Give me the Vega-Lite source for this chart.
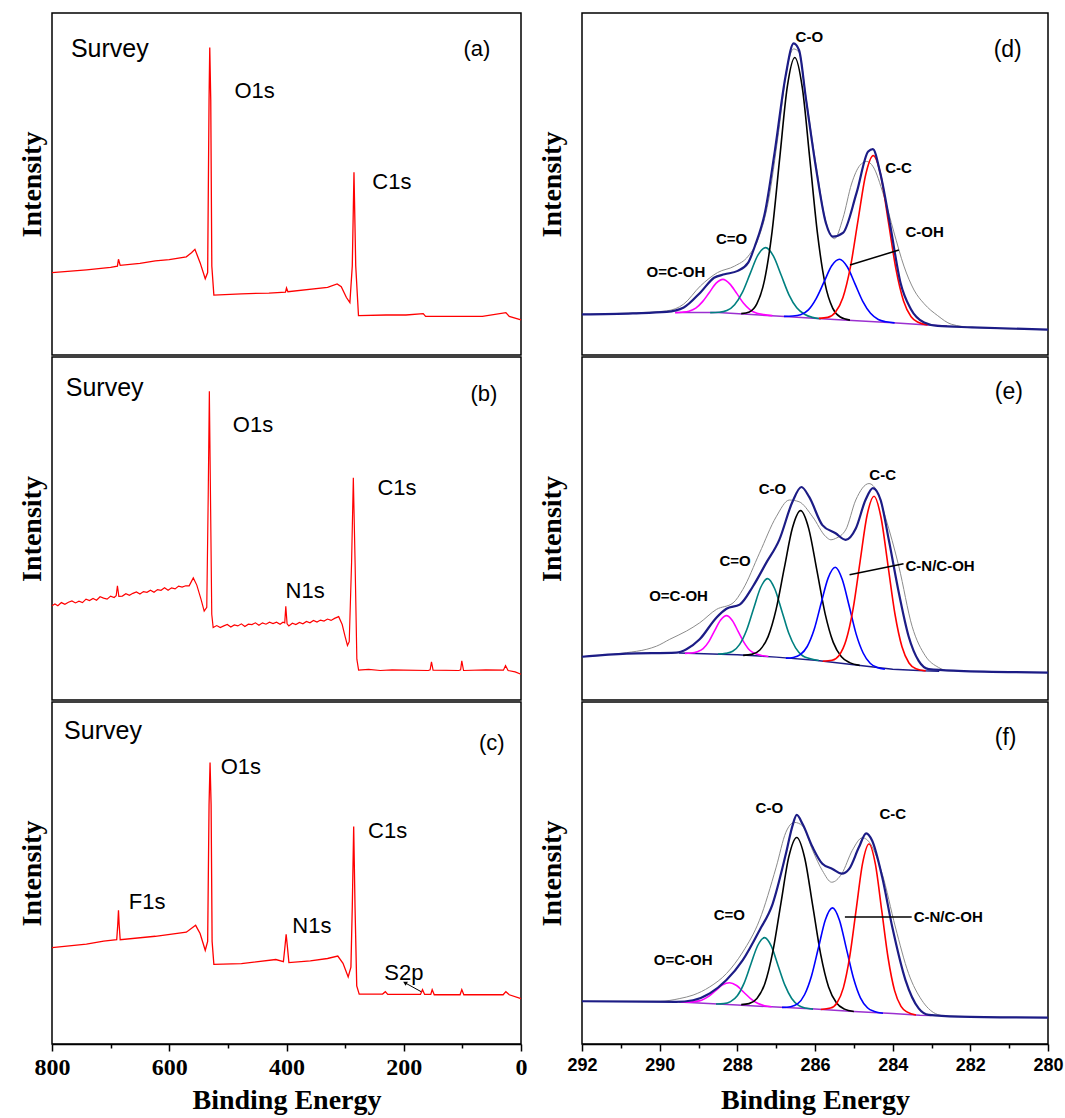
{
"$schema":"https://vega.github.io/schema/vega-lite/v6.json",
"background":"white",
"padding":{"left":17,"top":12,"right":0,"bottom":0},
"config":{"view":{"stroke":"#000","strokeWidth":1.5},"font":"Liberation Sans"},
"datasets":{
"a":[{"x":800,"y":24.1},{"x":741,"y":24.9},{"x":700,"y":25.6},{"x":688.4,"y":26.0},{"x":686.6,"y":28.0},{"x":683.7,"y":26.2},{"x":650,"y":26.8},{"x":623.8,"y":27.5},{"x":600,"y":27.9},{"x":570.9,"y":28.7},{"x":562.1,"y":29.9},{"x":556.2,"y":30.9},{"x":547.4,"y":27.0},{"x":538.6,"y":22.3},{"x":534.5,"y":24.1},{"x":532.1,"y":74.6},{"x":530.9,"y":89.9},{"x":529.2,"y":74.6},{"x":527.4,"y":26.0},{"x":523.9,"y":17.5},{"x":476.9,"y":17.9},{"x":430,"y":18.1},{"x":401.7,"y":18.4},{"x":400,"y":19.6},{"x":397.6,"y":18.5},{"x":330,"y":19.8},{"x":313.6,"y":20.8},{"x":306.6,"y":20.0},{"x":297.8,"y":16.8},{"x":291.9,"y":15.3},{"x":287.8,"y":26.0},{"x":284.9,"y":53.4},{"x":281.9,"y":26.0},{"x":277.2,"y":11.5},{"x":230.2,"y":11.7},{"x":196.2,"y":11.7},{"x":166.8,"y":12.1},{"x":162.7,"y":11.3},{"x":65.8,"y":11.3},{"x":25.8,"y":12.4},{"x":20,"y":11.3},{"x":0,"y":10.3}],
"b":[{"x":800,"y":27.5},{"x":795,"y":28.0},{"x":790,"y":27.5},{"x":784,"y":28.4},{"x":778,"y":27.9},{"x":772,"y":28.5},{"x":766,"y":28.9},{"x":760,"y":28.3},{"x":754,"y":28.8},{"x":748,"y":28.4},{"x":742,"y":29.4},{"x":736,"y":29.0},{"x":730,"y":29.6},{"x":724,"y":29.1},{"x":718,"y":30.1},{"x":712,"y":29.7},{"x":706,"y":29.4},{"x":700,"y":30.3},{"x":694,"y":29.9},{"x":690.5,"y":30.4},{"x":688.4,"y":33.3},{"x":686,"y":30.2},{"x":680,"y":30.3},{"x":674,"y":31.0},{"x":668,"y":30.5},{"x":662,"y":31.1},{"x":656,"y":31.5},{"x":650,"y":30.9},{"x":644,"y":31.6},{"x":638,"y":31.4},{"x":632,"y":32.0},{"x":626,"y":31.4},{"x":620,"y":32.2},{"x":614,"y":32.0},{"x":608,"y":32.7},{"x":602,"y":32.0},{"x":596,"y":32.7},{"x":590,"y":32.4},{"x":584,"y":33.2},{"x":578,"y":32.9},{"x":572,"y":33.3},{"x":566,"y":33.3},{"x":559,"y":35.6},{"x":553,"y":33.5},{"x":546,"y":29.5},{"x":540.4,"y":25.9},{"x":536,"y":27.0},{"x":533.5,"y":60},{"x":531.6,"y":90.0},{"x":529.7,"y":60},{"x":527.5,"y":25},{"x":525.1,"y":21.1},{"x":519,"y":21.7},{"x":513,"y":21.1},{"x":507,"y":21.6},{"x":501,"y":22.0},{"x":495,"y":21.3},{"x":489,"y":21.9},{"x":483,"y":21.6},{"x":477,"y":22.2},{"x":471,"y":21.4},{"x":465,"y":22.1},{"x":459,"y":22.0},{"x":453,"y":22.5},{"x":447,"y":21.8},{"x":441,"y":22.5},{"x":435,"y":22.1},{"x":429,"y":22.7},{"x":423,"y":22.3},{"x":417,"y":22.7},{"x":411,"y":22.1},{"x":406,"y":22.7},{"x":403,"y":22.5},{"x":401.2,"y":27.3},{"x":399,"y":22.2},{"x":396,"y":21.6},{"x":390,"y":22.4},{"x":384,"y":22.0},{"x":378,"y":22.6},{"x":372,"y":22.2},{"x":366,"y":22.9},{"x":360,"y":22.5},{"x":354,"y":23.2},{"x":348,"y":22.7},{"x":342,"y":23.3},{"x":336,"y":23.0},{"x":330,"y":23.6},{"x":324,"y":23.2},{"x":318,"y":23.8},{"x":311,"y":24.3},{"x":305,"y":22.0},{"x":300,"y":18.5},{"x":296,"y":15.9},{"x":293,"y":17},{"x":289,"y":40},{"x":286,"y":64.8},{"x":283,"y":40},{"x":280,"y":11.9},{"x":277,"y":8.7},{"x":260,"y":8.9},{"x":240,"y":8.6},{"x":220,"y":8.8},{"x":200,"y":8.7},{"x":158,"y":8.6},{"x":155,"y":8.8},{"x":152.7,"y":11.1},{"x":150,"y":8.7},{"x":106,"y":8.6},{"x":103,"y":8.8},{"x":101,"y":11.4},{"x":98,"y":8.6},{"x":60,"y":8.8},{"x":30,"y":8.7},{"x":26.4,"y":10.0},{"x":22,"y":8.6},{"x":10,"y":8.2},{"x":0,"y":7.5}],
"c":[{"x":800,"y":28.2},{"x":741.3,"y":29.2},{"x":711.9,"y":30.1},{"x":689.6,"y":30.5},{"x":687.8,"y":35},{"x":686.6,"y":39.1},{"x":685.5,"y":35},{"x":683.7,"y":30.5},{"x":623.8,"y":31.5},{"x":570.9,"y":32.7},{"x":555,"y":34.7},{"x":547.4,"y":32.3},{"x":538.6,"y":27.4},{"x":534.5,"y":30},{"x":532.1,"y":70},{"x":530.4,"y":82.3},{"x":528.6,"y":70},{"x":526.9,"y":30},{"x":523.9,"y":23.3},{"x":476.9,"y":23.5},{"x":418.2,"y":24.7},{"x":405.3,"y":24.1},{"x":402.9,"y":28},{"x":400.6,"y":32.1},{"x":398.2,"y":28},{"x":395.9,"y":23.8},{"x":359.4,"y":24.3},{"x":330,"y":25.0},{"x":312.5,"y":25.7},{"x":303.6,"y":23.6},{"x":294.8,"y":19.6},{"x":290.1,"y":22.5},{"x":287.8,"y":40},{"x":285.4,"y":63.6},{"x":283.1,"y":40},{"x":280.2,"y":17},{"x":276,"y":14.6},{"x":236.1,"y":14.6},{"x":231.4,"y":15.3},{"x":227.3,"y":14.5},{"x":171.5,"y":14.5},{"x":168,"y":15.9},{"x":164.4,"y":14.5},{"x":153.9,"y":14.5},{"x":151.5,"y":15.9},{"x":148,"y":14.4},{"x":103.9,"y":14.4},{"x":101,"y":15.9},{"x":97.5,"y":14.4},{"x":30.5,"y":14.4},{"x":25.8,"y":15.3},{"x":20,"y":14.4},{"x":0,"y":13.3}],
"d_raw":[{"x":292,"y":11.9},{"x":290.69,"y":12.3},{"x":289.82,"y":12.9},{"x":289.38,"y":14.9},{"x":288.95,"y":20.2},{"x":288.51,"y":24.1},{"x":288.07,"y":26.0},{"x":287.72,"y":28.9},{"x":287.46,"y":34},{"x":287.2,"y":45},{"x":286.94,"y":65},{"x":286.72,"y":84},{"x":286.55,"y":89.5},{"x":286.41,"y":88.5},{"x":286.24,"y":76},{"x":285.98,"y":56},{"x":285.72,"y":39},{"x":285.5,"y":34.0},{"x":285.28,"y":40},{"x":285.06,"y":50},{"x":284.84,"y":55.5},{"x":284.67,"y":56.6},{"x":284.5,"y":55},{"x":284.24,"y":47},{"x":283.97,"y":36},{"x":283.71,"y":26},{"x":283.45,"y":19},{"x":283.19,"y":15},{"x":282.84,"y":11.5},{"x":282.49,"y":9.0},{"x":281.96,"y":8.1},{"x":280,"y":7.4}],
"d_fit":[{"x":292,"y":11.9},{"x":290.69,"y":12.2},{"x":289.82,"y":12.6},{"x":289.38,"y":13.9},{"x":288.95,"y":18.3},{"x":288.6,"y":22.6},{"x":288.33,"y":23.6},{"x":287.99,"y":24.6},{"x":287.72,"y":27.0},{"x":287.55,"y":31.8},{"x":287.29,"y":41.6},{"x":287.03,"y":60.0},{"x":286.76,"y":81.4},{"x":286.55,"y":91.1},{"x":286.41,"y":89.1},{"x":286.24,"y":75.5},{"x":285.98,"y":55.1},{"x":285.72,"y":38.6},{"x":285.54,"y":34.6},{"x":285.28,"y":35.7},{"x":284.93,"y":47.4},{"x":284.63,"y":59.5},{"x":284.51,"y":60.2},{"x":284.32,"y":53.2},{"x":284.06,"y":37.7},{"x":283.8,"y":21.2},{"x":283.53,"y":13.4},{"x":283.19,"y":9.5},{"x":282.84,"y":8.5},{"x":281.96,"y":8.1},{"x":280,"y":7.4}],
"d_bg":[{"x":289.6,"y":12.4},{"x":288.5,"y":12.4},{"x":287,"y":11.4},{"x":285.5,"y":10.4},{"x":284,"y":9.4},{"x":283,"y":8.7},{"x":282.6,"y":8.5}],
"d_comp":[
{"s":"m","x":289.6,"y":12.4},{"s":"m","x":289.42,"y":12.5},{"s":"m","x":289.245,"y":12.8},{"s":"m","x":289.07,"y":13.7},{"s":"m","x":288.895,"y":15.6},{"s":"m","x":288.72,"y":18.3},{"s":"m","x":288.545,"y":21.0},{"s":"m","x":288.37,"y":22.1},{"s":"m","x":288.195,"y":20.8},{"s":"m","x":288.02,"y":18.1},{"s":"m","x":287.845,"y":15.2},{"s":"m","x":287.67,"y":13.2},{"s":"m","x":287.495,"y":12.2},{"s":"m","x":287.32,"y":11.8},{"s":"m","x":287.1,"y":11.5},
{"s":"t","x":288.7,"y":12.4},{"s":"t","x":288.47,"y":12.5},{"s":"t","x":288.27,"y":13.0},{"s":"t","x":288.07,"y":14.7},{"s":"t","x":287.87,"y":18.3},{"s":"t","x":287.67,"y":23.8},{"s":"t","x":287.47,"y":29.2},{"s":"t","x":287.27,"y":31.4},{"s":"t","x":287.07,"y":28.9},{"s":"t","x":286.87,"y":23.3},{"s":"t","x":286.67,"y":17.6},{"s":"t","x":286.47,"y":13.8},{"s":"t","x":286.27,"y":11.9},{"s":"t","x":286.07,"y":11.0},{"s":"t","x":285.85,"y":10.6},
{"s":"k","x":287.9,"y":12.1},{"s":"k","x":287.69,"y":12.6},{"s":"k","x":287.495,"y":15.0},{"s":"k","x":287.3,"y":21.9},{"s":"k","x":287.105,"y":36.1},{"s":"k","x":286.91,"y":57.4},{"s":"k","x":286.715,"y":78.3},{"s":"k","x":286.52,"y":87.0},{"s":"k","x":286.325,"y":78.0},{"s":"k","x":286.13,"y":56.9},{"s":"k","x":285.935,"y":35.4},{"s":"k","x":285.74,"y":20.8},{"s":"k","x":285.545,"y":13.7},{"s":"k","x":285.35,"y":11.1},{"s":"k","x":285.1,"y":10.2},
{"s":"b","x":286.8,"y":11.3},{"s":"b","x":286.57,"y":11.4},{"s":"b","x":286.37,"y":11.8},{"s":"b","x":286.17,"y":13.2},{"s":"b","x":285.97,"y":16.5},{"s":"b","x":285.77,"y":21.3},{"s":"b","x":285.57,"y":26.1},{"s":"b","x":285.37,"y":28.0},{"s":"b","x":285.17,"y":25.8},{"s":"b","x":284.97,"y":20.8},{"s":"b","x":284.77,"y":15.7},{"s":"b","x":284.57,"y":12.2},{"s":"b","x":284.37,"y":10.4},{"s":"b","x":284.17,"y":9.7},{"s":"b","x":283.95,"y":9.4},
{"s":"r","x":285.9,"y":10.7},{"s":"r","x":285.67,"y":11.0},{"s":"r","x":285.475,"y":12.5},{"s":"r","x":285.28,"y":16.8},{"s":"r","x":285.085,"y":25.9},{"s":"r","x":284.89,"y":39.5},{"s":"r","x":284.695,"y":52.7},{"s":"r","x":284.5,"y":58.3},{"s":"r","x":284.305,"y":52.5},{"s":"r","x":284.11,"y":38.9},{"s":"r","x":283.915,"y":25.1},{"s":"r","x":283.72,"y":15.8},{"s":"r","x":283.525,"y":11.2},{"s":"r","x":283.33,"y":9.5},{"s":"r","x":283.1,"y":8.8}],
"e_raw":[{"x":292,"y":12.6},{"x":290.85,"y":13.8},{"x":290.33,"y":14.8},{"x":290.08,"y":15.7},{"x":289.74,"y":17.7},{"x":289.31,"y":20.1},{"x":288.97,"y":22.5},{"x":288.54,"y":26.4},{"x":288.11,"y":28.3},{"x":287.86,"y":32.2},{"x":287.43,"y":42.8},{"x":287.0,"y":53.4},{"x":286.66,"y":58.3},{"x":286.41,"y":57.8},{"x":286.06,"y":53.4},{"x":285.72,"y":47.6},{"x":285.59,"y":46.7},{"x":285.47,"y":47.1},{"x":285.21,"y":49.6},{"x":284.95,"y":58.3},{"x":284.61,"y":63.1},{"x":284.4,"y":60.7},{"x":284.19,"y":53.4},{"x":283.84,"y":38.9},{"x":283.5,"y":21.5},{"x":283.16,"y":12.9},{"x":282.82,"y":9.5},{"x":282.56,"y":8.5},{"x":280,"y":8.0}],
"e_fit":[{"x":292,"y":12.6},{"x":290.85,"y":13.5},{"x":289.57,"y":13.8},{"x":289.31,"y":14.8},{"x":288.97,"y":17.7},{"x":288.54,"y":24.0},{"x":288.28,"y":26.6},{"x":287.94,"y":27.8},{"x":287.6,"y":33.1},{"x":287.26,"y":39.9},{"x":286.92,"y":46.7},{"x":286.58,"y":57.8},{"x":286.35,"y":62.1},{"x":286.15,"y":59.2},{"x":285.81,"y":51.0},{"x":285.47,"y":48.6},{"x":285.21,"y":46.7},{"x":284.95,"y":50.0},{"x":284.7,"y":58.3},{"x":284.51,"y":61.8},{"x":284.31,"y":58.3},{"x":284.1,"y":46.7},{"x":283.84,"y":31.2},{"x":283.59,"y":18.6},{"x":283.33,"y":11.4},{"x":283.07,"y":9.0},{"x":282.31,"y":8.5},{"x":280,"y":8.0}],
"e_bg":[{"x":289.5,"y":13.7},{"x":288,"y":13.2},{"x":287,"y":12.5},{"x":286,"y":11.6},{"x":285,"y":10.3},{"x":284,"y":9.0},{"x":283.2,"y":8.5},{"x":282.8,"y":8.4}],
"e_comp":[
{"s":"m","x":289.35,"y":13.6},{"s":"m","x":289.18,"y":13.7},{"s":"m","x":289.03,"y":14.1},{"s":"m","x":288.88,"y":15.0},{"s":"m","x":288.73,"y":17.1},{"s":"m","x":288.58,"y":20.3},{"s":"m","x":288.43,"y":23.3},{"s":"m","x":288.28,"y":24.6},{"s":"m","x":288.13,"y":23.2},{"s":"m","x":287.98,"y":20.0},{"s":"m","x":287.83,"y":16.8},{"s":"m","x":287.68,"y":14.5},{"s":"m","x":287.53,"y":13.5},{"s":"m","x":287.38,"y":13.0},{"s":"m","x":287.2,"y":12.7},
{"s":"t","x":288.5,"y":13.4},{"s":"t","x":288.3,"y":13.6},{"s":"t","x":288.12,"y":14.2},{"s":"t","x":287.94,"y":16.2},{"s":"t","x":287.76,"y":20.4},{"s":"t","x":287.58,"y":26.7},{"s":"t","x":287.4,"y":32.8},{"s":"t","x":287.22,"y":35.4},{"s":"t","x":287.04,"y":32.5},{"s":"t","x":286.86,"y":26.2},{"s":"t","x":286.68,"y":19.6},{"s":"t","x":286.5,"y":15.2},{"s":"t","x":286.32,"y":12.9},{"s":"t","x":286.14,"y":12.1},{"s":"t","x":285.9,"y":11.5},
{"s":"k","x":287.85,"y":13.0},{"s":"k","x":287.63,"y":13.3},{"s":"k","x":287.42,"y":14.6},{"s":"k","x":287.21,"y":18.4},{"s":"k","x":287.0,"y":26.5},{"s":"k","x":286.79,"y":38.5},{"s":"k","x":286.58,"y":50.2},{"s":"k","x":286.37,"y":55.2},{"s":"k","x":286.16,"y":49.9},{"s":"k","x":285.95,"y":37.7},{"s":"k","x":285.74,"y":25.2},{"s":"k","x":285.53,"y":16.8},{"s":"k","x":285.32,"y":12.6},{"s":"k","x":285.11,"y":10.9},{"s":"k","x":284.85,"y":10.1},
{"s":"b","x":286.75,"y":12.2},{"s":"b","x":286.56,"y":12.4},{"s":"b","x":286.38,"y":13.2},{"s":"b","x":286.2,"y":15.6},{"s":"b","x":286.02,"y":20.6},{"s":"b","x":285.84,"y":28.3},{"s":"b","x":285.66,"y":35.6},{"s":"b","x":285.48,"y":38.7},{"s":"b","x":285.3,"y":35.2},{"s":"b","x":285.12,"y":27.4},{"s":"b","x":284.94,"y":19.2},{"s":"b","x":284.76,"y":13.7},{"s":"b","x":284.58,"y":10.7},{"s":"b","x":284.4,"y":9.5},{"s":"b","x":284.2,"y":9.0},
{"s":"r","x":285.8,"y":11.3},{"s":"r","x":285.56,"y":11.6},{"s":"r","x":285.38,"y":13.0},{"s":"r","x":285.2,"y":17.4},{"s":"r","x":285.02,"y":26.5},{"s":"r","x":284.84,"y":40.3},{"s":"r","x":284.66,"y":53.8},{"s":"r","x":284.48,"y":59.4},{"s":"r","x":284.3,"y":53.2},{"s":"r","x":284.12,"y":39.2},{"s":"r","x":283.94,"y":25.0},{"s":"r","x":283.76,"y":15.5},{"s":"r","x":283.58,"y":10.8},{"s":"r","x":283.4,"y":9.1},{"s":"r","x":283.15,"y":8.5}],
"f_raw":[{"x":292,"y":12.5},{"x":289.99,"y":12.5},{"x":289.48,"y":13.3},{"x":289.14,"y":14.3},{"x":288.71,"y":16.7},{"x":288.28,"y":20.6},{"x":287.86,"y":26.9},{"x":287.43,"y":36.2},{"x":287.0,"y":51.7},{"x":286.75,"y":61.9},{"x":286.53,"y":64.8},{"x":286.32,"y":63.8},{"x":286.06,"y":56.6},{"x":285.81,"y":50.7},{"x":285.57,"y":47.3},{"x":285.31,"y":49.8},{"x":285.04,"y":56.6},{"x":284.78,"y":60.3},{"x":284.57,"y":58.5},{"x":284.27,"y":49.8},{"x":283.93,"y":34.2},{"x":283.59,"y":20.6},{"x":283.25,"y":12.8},{"x":282.9,"y":8.9},{"x":282.65,"y":8.2},{"x":280,"y":7.7}],
"f_fit":[{"x":292,"y":12.5},{"x":289.57,"y":12.3},{"x":289.14,"y":12.8},{"x":288.71,"y":14.8},{"x":288.28,"y":18.7},{"x":287.86,"y":24.5},{"x":287.43,"y":33.2},{"x":287.09,"y":41.0},{"x":286.75,"y":55.6},{"x":286.58,"y":63.8},{"x":286.47,"y":67.0},{"x":286.32,"y":64.3},{"x":286.06,"y":57.5},{"x":285.81,"y":52.7},{"x":285.55,"y":51.2},{"x":285.31,"y":49.8},{"x":285.12,"y":51.2},{"x":284.87,"y":57.5},{"x":284.68,"y":61.6},{"x":284.53,"y":59.5},{"x":284.27,"y":48.8},{"x":284.01,"y":34.2},{"x":283.67,"y":18.7},{"x":283.33,"y":10.4},{"x":283.07,"y":8.5},{"x":282.31,"y":8.0},{"x":280,"y":7.7}],
"f_bg":[{"x":289.5,"y":12.3},{"x":288,"y":11.4},{"x":287,"y":10.8},{"x":286,"y":10.2},{"x":285,"y":9.5},{"x":284,"y":8.9},{"x":283.3,"y":8.4},{"x":283,"y":8.3}],
"f_comp":[
{"s":"m","x":289.45,"y":12.2},{"s":"m","x":289.28,"y":12.2},{"s":"m","x":289.1,"y":12.4},{"s":"m","x":288.92,"y":12.8},{"s":"m","x":288.74,"y":13.9},{"s":"m","x":288.56,"y":15.6},{"s":"m","x":288.38,"y":17.3},{"s":"m","x":288.2,"y":17.9},{"s":"m","x":288.02,"y":17.1},{"s":"m","x":287.84,"y":15.2},{"s":"m","x":287.66,"y":13.3},{"s":"m","x":287.48,"y":11.9},{"s":"m","x":287.3,"y":11.2},{"s":"m","x":287.12,"y":10.9},
{"s":"t","x":288.55,"y":11.7},{"s":"t","x":288.35,"y":11.8},{"s":"t","x":288.175,"y":12.4},{"s":"t","x":288.0,"y":14.1},{"s":"t","x":287.825,"y":17.8},{"s":"t","x":287.65,"y":23.4},{"s":"t","x":287.475,"y":28.8},{"s":"t","x":287.3,"y":31.1},{"s":"t","x":287.125,"y":28.6},{"s":"t","x":286.95,"y":22.9},{"s":"t","x":286.775,"y":17.2},{"s":"t","x":286.6,"y":13.3},{"s":"t","x":286.425,"y":11.3},{"s":"t","x":286.25,"y":10.5},{"s":"t","x":286.05,"y":10.2},
{"s":"k","x":287.9,"y":11.5},{"s":"k","x":287.7,"y":11.8},{"s":"k","x":287.495,"y":13.3},{"s":"k","x":287.29,"y":17.7},{"s":"k","x":287.085,"y":27.1},{"s":"k","x":286.88,"y":41.0},{"s":"k","x":286.675,"y":54.7},{"s":"k","x":286.47,"y":60.4},{"s":"k","x":286.265,"y":54.4},{"s":"k","x":286.06,"y":40.5},{"s":"k","x":285.855,"y":26.3},{"s":"k","x":285.65,"y":16.7},{"s":"k","x":285.445,"y":12.0},{"s":"k","x":285.24,"y":10.2},{"s":"k","x":285.0,"y":9.5},
{"s":"b","x":286.85,"y":10.7},{"s":"b","x":286.63,"y":10.9},{"s":"b","x":286.45,"y":11.7},{"s":"b","x":286.27,"y":14.4},{"s":"b","x":286.09,"y":19.9},{"s":"b","x":285.91,"y":28.2},{"s":"b","x":285.73,"y":36.4},{"s":"b","x":285.55,"y":39.8},{"s":"b","x":285.37,"y":36.2},{"s":"b","x":285.19,"y":27.8},{"s":"b","x":285.01,"y":19.3},{"s":"b","x":284.83,"y":13.5},{"s":"b","x":284.65,"y":10.6},{"s":"b","x":284.47,"y":9.5},{"s":"b","x":284.25,"y":9.0},
{"s":"r","x":285.85,"y":10.1},{"s":"r","x":285.6,"y":10.5},{"s":"r","x":285.435,"y":12.0},{"s":"r","x":285.27,"y":16.4},{"s":"r","x":285.105,"y":25.6},{"s":"r","x":284.94,"y":39.3},{"s":"r","x":284.775,"y":52.8},{"s":"r","x":284.61,"y":58.5},{"s":"r","x":284.445,"y":52.6},{"s":"r","x":284.28,"y":38.9},{"s":"r","x":284.115,"y":25.0},{"s":"r","x":283.95,"y":15.6},{"s":"r","x":283.785,"y":11.0},{"s":"r","x":283.62,"y":9.3},{"s":"r","x":283.4,"y":8.5}]
},
"resolve":{"scale":{"x":"independent","y":"independent"}},
"spacing":9,
"hconcat":[
{"spacing":0,"resolve":{"scale":{"x":"shared","y":"independent"}},"vconcat":[
{"width":469,"height":342,
"encoding":{"x":{"field":"x","type":"quantitative","scale":{"domain":[0,800],"reverse":true,"nice":false,"zero":false},"axis":null},
"y":{"field":"y","type":"quantitative","scale":{"domain":[0,100],"nice":false,"zero":false},"axis":{"title":"Intensity","ticks":false,"labels":false,"domain":false,"grid":false,"titleFont":"Liberation Serif","titleFontSize":28,"titleFontWeight":"bold","titleColor":"#000","titlePadding":6}}},
"layer":[
{"data":{"name":"a"},"mark":{"type":"line","color":"#ff0000","strokeWidth":1.3}},
{"data":{"values":[{"x":767.7,"y":89.6,"t":"Survey"}]},"mark":{"type":"text","align":"left","baseline":"middle","fontSize":25,"color":"#000"},"encoding":{"text":{"field":"t"}}},
{"data":{"values":[{"x":98.1,"y":89.6,"t":"(a)"},{"x":488.7,"y":77.3,"t":"O1s"},{"x":253.7,"y":50.5,"t":"C1s"}]},"mark":{"type":"text","align":"left","baseline":"middle","fontSize":22,"color":"#000"},"encoding":{"text":{"field":"t"}}}
]},
{"width":469,"height":343,
"encoding":{"x":{"field":"x","type":"quantitative","scale":{"domain":[0,800],"reverse":true,"nice":false,"zero":false},"axis":null},
"y":{"field":"y","type":"quantitative","scale":{"domain":[0,100],"nice":false,"zero":false},"axis":{"title":"Intensity","ticks":false,"labels":false,"domain":false,"grid":false,"titleFont":"Liberation Serif","titleFontSize":28,"titleFontWeight":"bold","titleColor":"#000","titlePadding":6}}},
"layer":[
{"data":{"name":"b"},"mark":{"type":"line","color":"#ff0000","strokeWidth":1.2}},
{"data":{"values":[{"x":776.5,"y":91.1,"t":"Survey"}]},"mark":{"type":"text","align":"left","baseline":"middle","fontSize":25,"color":"#000"},"encoding":{"text":{"field":"t"}}},
{"data":{"values":[{"x":86.3,"y":89.2,"t":"(b)"},{"x":491.6,"y":80.3,"t":"O1s"},{"x":244.9,"y":61.8,"t":"C1s"},{"x":401.7,"y":31.7,"t":"N1s"}]},"mark":{"type":"text","align":"left","baseline":"middle","fontSize":22,"color":"#000"},"encoding":{"text":{"field":"t"}}}
]},
{"width":469,"height":342,
"encoding":{"x":{"field":"x","type":"quantitative","scale":{"domain":[0,800],"reverse":true,"nice":false,"zero":false},"axis":{"title":"Binding Energy","values":[800,700,600,500,400,300,200,100,0],"format":"d","labelExpr":"datum.value % 200 === 0 ? datum.label : ''","tickSize":{"condition":{"test":"datum.value % 200 === 0","value":7},"value":4},"tickColor":"#000","tickWidth":1.5,"domainColor":"#000","domainWidth":1.5,"grid":false,"labelFont":"Liberation Serif","labelFontSize":24,"labelFontWeight":"bold","labelColor":"#000","labelPadding":4,"labelFlush":false,"labelOverlap":false,"titleFont":"Liberation Serif","titleFontSize":28,"titleFontWeight":"bold","titleColor":"#000","titlePadding":7}},
"y":{"field":"y","type":"quantitative","scale":{"domain":[0,100],"nice":false,"zero":false},"axis":{"title":"Intensity","ticks":false,"labels":false,"domain":false,"grid":false,"titleFont":"Liberation Serif","titleFontSize":28,"titleFontWeight":"bold","titleColor":"#000","titlePadding":6}}},
"layer":[
{"data":{"name":"c"},"mark":{"type":"line","color":"#ff0000","strokeWidth":1.3}},
{"data":{"values":[{"x":779.4,"y":91.5,"t":"Survey"}]},"mark":{"type":"text","align":"left","baseline":"middle","fontSize":25,"color":"#000"},"encoding":{"text":{"field":"t"}}},
{"data":{"values":[{"x":71.6,"y":88.1,"t":"(c)"},{"x":512.2,"y":80.9,"t":"O1s"},{"x":260.8,"y":62.4,"t":"C1s"},{"x":669,"y":41.5,"t":"F1s"},{"x":390,"y":34.4,"t":"N1s"},{"x":233.2,"y":20.8,"t":"S2p"}]},"mark":{"type":"text","align":"left","baseline":"middle","fontSize":22,"color":"#000"},"encoding":{"text":{"field":"t"}}},
{"data":{"values":[{"x":170.3,"y":15.3,"x2":197.9,"y2":17.9}]},"mark":{"type":"rule","color":"#000","strokeWidth":1},"encoding":{"x2":{"field":"x2"},"y2":{"field":"y2"}}},
{"data":{"values":[{"x":197.9,"y":17.9}]},"mark":{"type":"point","shape":"triangle-up","angle":299,"size":22,"filled":true,"color":"#000","opacity":1}}
]}
]},
{"spacing":0,"resolve":{"scale":{"x":"shared","y":"independent"}},"vconcat":[
{"width":466,"height":342,
"encoding":{"x":{"field":"x","type":"quantitative","scale":{"domain":[280,292],"reverse":true,"nice":false,"zero":false},"axis":null},
"y":{"field":"y","type":"quantitative","scale":{"domain":[0,100],"nice":false,"zero":false},"axis":{"title":"Intensity","ticks":false,"labels":false,"domain":false,"grid":false,"titleFont":"Liberation Serif","titleFontSize":28,"titleFontWeight":"bold","titleColor":"#000","titlePadding":16}}},
"layer":[
{"data":{"name":"d_raw"},"mark":{"type":"line","color":"#8c8c8c","strokeWidth":1,"interpolate":"monotone"}},
{"data":{"name":"d_bg"},"mark":{"type":"line","color":"#9b30d0","strokeWidth":1.5}},
{"data":{"name":"d_comp"},"mark":{"type":"line","strokeWidth":1.6,"interpolate":"monotone"},"encoding":{"color":{"field":"s","type":"nominal","scale":{"domain":["m","t","k","b","r"],"range":["#ff00ff","#008080","#000000","#0000ff","#ff0000"]},"legend":null}}},
{"data":{"name":"d_fit"},"mark":{"type":"line","color":"#1c1c86","strokeWidth":2.2,"interpolate":"monotone"}},
{"data":{"values":[{"x":286.5,"y":93,"t":"C-O"},{"x":284.19,"y":54.7,"t":"C-C"},{"x":283.67,"y":36,"t":"C-OH"},{"x":288.55,"y":33.8,"t":"C=O"},{"x":290.34,"y":24.3,"t":"O=C-OH"}]},"mark":{"type":"text","align":"left","baseline":"middle","fontSize":15,"fontWeight":"bold","color":"#000"},"encoding":{"text":{"field":"t"}}},
{"data":{"values":[{"x":281.4,"y":89.1,"t":"(d)"}]},"mark":{"type":"text","align":"left","baseline":"middle","fontSize":23,"color":"#000"},"encoding":{"text":{"field":"t"}}},
{"data":{"values":[{"x":285.1,"y":26.3,"x2":283.84,"y2":30.7}]},"mark":{"type":"rule","color":"#000","strokeWidth":1.5},"encoding":{"x2":{"field":"x2"},"y2":{"field":"y2"}}}
]},
{"width":466,"height":343,
"encoding":{"x":{"field":"x","type":"quantitative","scale":{"domain":[280,292],"reverse":true,"nice":false,"zero":false},"axis":null},
"y":{"field":"y","type":"quantitative","scale":{"domain":[0,100],"nice":false,"zero":false},"axis":{"title":"Intensity","ticks":false,"labels":false,"domain":false,"grid":false,"titleFont":"Liberation Serif","titleFontSize":28,"titleFontWeight":"bold","titleColor":"#000","titlePadding":16}}},
"layer":[
{"data":{"name":"e_raw"},"mark":{"type":"line","color":"#8c8c8c","strokeWidth":1,"interpolate":"monotone"}},
{"data":{"name":"e_bg"},"mark":{"type":"line","color":"#1c1c86","strokeWidth":1.5}},
{"data":{"name":"e_comp"},"mark":{"type":"line","strokeWidth":1.6,"interpolate":"monotone"},"encoding":{"color":{"field":"s","type":"nominal","scale":{"domain":["m","t","k","b","r"],"range":["#ff00ff","#008080","#000000","#0000ff","#ff0000"]},"legend":null}}},
{"data":{"name":"e_fit"},"mark":{"type":"line","color":"#1c1c86","strokeWidth":2.2,"interpolate":"monotone"}},
{"data":{"values":[{"x":284.6,"y":65.5,"t":"C-C"},{"x":287.45,"y":61.4,"t":"C-O"},{"x":288.46,"y":40.4,"t":"C=O"},{"x":290.27,"y":30.2,"t":"O=C-OH"},{"x":283.67,"y":39.1,"t":"C-N/C-OH"}]},"mark":{"type":"text","align":"left","baseline":"middle","fontSize":15,"fontWeight":"bold","color":"#000"},"encoding":{"text":{"field":"t"}}},
{"data":{"values":[{"x":281.37,"y":89.7,"t":"(e)"}]},"mark":{"type":"text","align":"left","baseline":"middle","fontSize":23,"color":"#000"},"encoding":{"text":{"field":"t"}}},
{"data":{"values":[{"x":285.11,"y":36.5,"x2":283.72,"y2":39.7}]},"mark":{"type":"rule","color":"#000","strokeWidth":1.5},"encoding":{"x2":{"field":"x2"},"y2":{"field":"y2"}}}
]},
{"width":466,"height":342,
"encoding":{"x":{"field":"x","type":"quantitative","scale":{"domain":[280,292],"reverse":true,"nice":false,"zero":false},"axis":{"title":"Binding Energy","values":[292,291,290,289,288,287,286,285,284,283,282,281,280],"format":"d","labelExpr":"datum.value % 2 === 0 ? datum.label : ''","tickSize":{"condition":{"test":"datum.value % 2 === 0","value":7},"value":4},"tickColor":"#000","tickWidth":1.5,"domainColor":"#000","domainWidth":1.5,"grid":false,"labelFont":"Liberation Sans","labelFontSize":18,"labelFontWeight":"bold","labelColor":"#000","labelPadding":5,"labelFlush":false,"labelOverlap":false,"titleFont":"Liberation Serif","titleFontSize":28,"titleFontWeight":"bold","titleColor":"#000","titlePadding":12}},
"y":{"field":"y","type":"quantitative","scale":{"domain":[0,100],"nice":false,"zero":false},"axis":{"title":"Intensity","ticks":false,"labels":false,"domain":false,"grid":false,"titleFont":"Liberation Serif","titleFontSize":28,"titleFontWeight":"bold","titleColor":"#000","titlePadding":16}}},
"layer":[
{"data":{"name":"f_raw"},"mark":{"type":"line","color":"#8c8c8c","strokeWidth":1,"interpolate":"monotone"}},
{"data":{"name":"f_bg"},"mark":{"type":"line","color":"#9b30d0","strokeWidth":1.5}},
{"data":{"name":"f_comp"},"mark":{"type":"line","strokeWidth":1.6,"interpolate":"monotone"},"encoding":{"color":{"field":"s","type":"nominal","scale":{"domain":["m","t","k","b","r"],"range":["#ff00ff","#008080","#000000","#0000ff","#ff0000"]},"legend":null}}},
{"data":{"name":"f_fit"},"mark":{"type":"line","color":"#1c1c86","strokeWidth":2.2,"interpolate":"monotone"}},
{"data":{"values":[{"x":287.53,"y":69,"t":"C-O"},{"x":284.34,"y":67.2,"t":"C-C"},{"x":288.61,"y":37.6,"t":"C=O"},{"x":290.15,"y":24.7,"t":"O=C-OH"},{"x":283.46,"y":37.1,"t":"C-N/C-OH"}]},"mark":{"type":"text","align":"left","baseline":"middle","fontSize":15,"fontWeight":"bold","color":"#000"},"encoding":{"text":{"field":"t"}}},
{"data":{"values":[{"x":281.37,"y":89.6,"t":"(f)"}]},"mark":{"type":"text","align":"left","baseline":"middle","fontSize":23,"color":"#000"},"encoding":{"text":{"field":"t"}}},
{"data":{"values":[{"x":285.23,"y":37.1,"x2":283.51,"y2":37.1}]},"mark":{"type":"rule","color":"#000","strokeWidth":1.5},"encoding":{"x2":{"field":"x2"},"y2":{"field":"y2"}}}
]}
]}
]
}
